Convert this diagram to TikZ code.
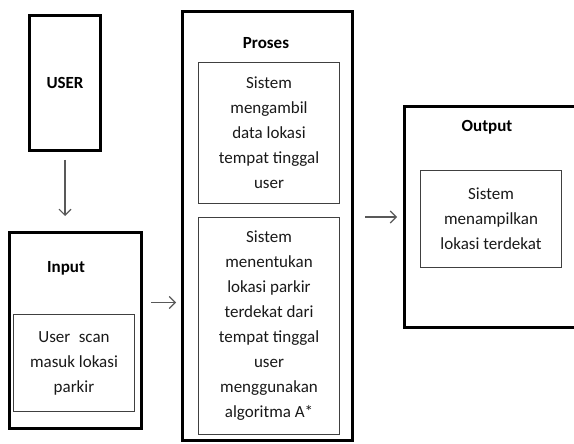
\documentclass[tikz,border=0pt]{standalone}
\usepackage{fontspec}
\setmainfont{Carlito}
\usepackage{tikz}
\usetikzlibrary{positioning,arrows.meta}

\begin{document}
\begin{tikzpicture}[x=1pt, y=-1pt,
    outerbox/.style={rectangle, draw, line width=3pt, font=\fontsize{17}{20}\selectfont\bfseries},
    innerbox/.style={rectangle, draw=black!75, line width=0.9pt, align=center, inner sep=0pt, text=black!90, font=\fontsize{17}{25}\selectfont},
    title/.style={font=\fontsize{17}{20}\selectfont\bfseries},
    arrow/.style={-{Straight Barb[length=6pt,width=12pt]}, draw=black!65, line width=1.1pt}
]
\useasboundingbox (0,0) rectangle (574,444);

\node[outerbox, minimum width=71pt, minimum height=135pt] (user) at (65,83) {USER};
\node[outerbox, minimum width=132pt, minimum height=196pt] (input) at (75.5,330.5) {};
\node[outerbox, minimum width=170pt, minimum height=429pt] (proses) at (267.5,226) {};
\node[outerbox, minimum width=250pt, minimum height=221pt] (output) at (529.5,217) {};

\node[title] (inputtitle) at (66,268) {Input};
\node[title] (prosestitle) at (266,43) {Proses};
\node[title] (outputtitle) at (487,127) {Output};

\node[innerbox, minimum width=121pt, minimum height=97pt] (scan) at (74,363)
    {User\enspace scan\\masuk lokasi\\parkir};
\node[innerbox, minimum width=141pt, minimum height=141pt] (ambil) at (269,133)
    {Sistem\\mengambil\\data lokasi\\tempat tinggal\\user};
\node[innerbox, minimum width=141pt, minimum height=217pt] (tentukan) at (269,326)
    {Sistem\\menentukan\\lokasi parkir\\terdekat dari\\tempat tinggal\\user\\menggunakan\\algoritma A*};
\node[innerbox, minimum width=141pt, minimum height=97pt] (tampil) at (491,219)
    {Sistem\\menampilkan\\lokasi terdekat};

\coordinate (inp) at ([yshift=28pt]input.east);

\draw[arrow, shorten <=8pt, shorten >=15pt] (user.south) -- (user.south |- input.north);
\draw[arrow, shorten <=8pt, shorten >=5pt] (inp) -- (inp -| proses.west);
\draw[arrow, shorten <=11pt, shorten >=6pt] (proses.east |- output.west) -- (output.west);

\end{tikzpicture}
\end{document}
